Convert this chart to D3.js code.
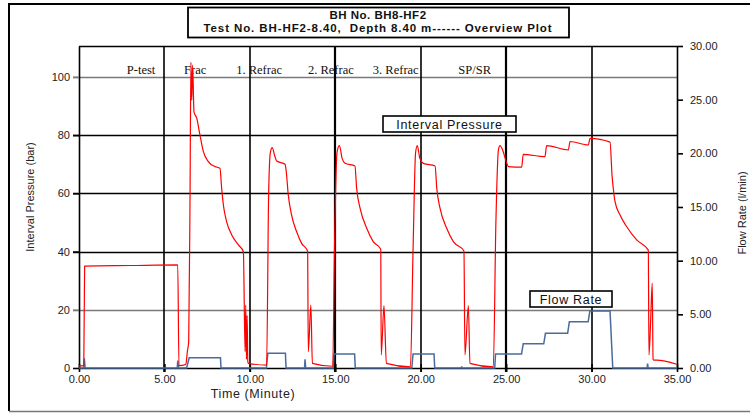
<!DOCTYPE html>
<html>
<head>
<meta charset="utf-8">
<script src="https://cdn.jsdelivr.net/npm/d3@7"></script>
<style>
  body { margin: 0; background: #fff; }
  svg { display: block; font-family: "Liberation Sans", Arial, sans-serif; }
</style>
</head>
<body>
<svg id="chart" width="750" height="413"></svg>
<script>
// ---- data ----
// interval pressure (bar) vs time (minute)
var pTime = [0, 0.28, 0.33, 3, 5.78, 5.85, 6.25, 6.35, 6.42, 6.5, 6.55, 6.6, 6.65, 6.73, 6.89, 7.08, 7.28, 7.57, 7.96, 8.25,
  8.35, 8.45, 8.64, 8.94, 9.33, 9.62, 9.72, 9.76, 9.8, 9.84, 9.88, 9.91, 10.98, 11.1, 11.2, 11.31, 11.45, 11.57, 12.06, 12.12,
  12.25, 12.44, 12.74, 13.03, 13.38, 13.42, 13.57, 13.66, 14.85, 14.95, 15.1, 15.24, 15.4, 15.57, 16.15, 16.25, 16.45, 16.84,
  17.22, 17.66, 17.69, 17.85, 17.99, 19.4, 19.55, 19.7, 19.8, 19.95, 20.15, 20.84, 20.94, 21.13, 21.52, 21.91, 22.53, 22.59,
  22.79, 22.88, 24.25, 24.4, 24.55, 24.64, 24.83, 25.0, 25.13, 25.91, 26.0, 27.27, 27.37, 28.64, 28.74, 29.81, 29.91, 31.08,
  31.2, 31.27, 31.37, 31.66, 32.05, 32.64, 33.32, 33.36, 33.45, 33.55, 33.6, 33.65, 33.81, 34.98];
var pressure = [0.7, 0.8, 35.0, 35.2, 35.4, 0.8, 1.2, 6, 9, 60, 105, 92, 104, 88, 85.8, 80, 74.3, 70.9, 69.2, 68.6,
  61.7, 56, 50.3, 45.7, 42.3, 40, 5.6, 21.6, 3, 18, 2.2, 1.6, 1.0, 60, 74, 75.7, 73, 71.1, 70, 68,
  59.4, 52.6, 46.8, 42.8, 40.2, 5.6, 21.6, 1.6, 0.6, 40, 74, 76.4, 72, 70.3, 69.4, 61.7, 54.9, 48,
  43.4, 40.8, 4.5, 21.4, 1.6, 0.4, 40, 74, 76.4, 72, 70.3, 69.4, 61.7, 54.9, 48, 43.4, 40.2, 4.5,
  21.4, 1.6, 0.4, 50, 75, 76.4, 74.3, 70.9, 69.2, 69, 73.4, 72.6, 76.4, 74.9, 77.8, 76.6, 78.9, 77.6,
  66, 61.7, 57.2, 52.6, 48.6, 44, 40.5, 4.5, 15, 29.1, 3, 2.7, 2.7, 1.3];

// flow rate (l/min) vs time (minute)
var qTime = [0, 0.28, 0.31, 0.36, 5.75, 5.78, 5.83, 6.3, 6.45, 8.28, 8.31, 10.97, 11.05, 12.08, 12.12, 13.2, 13.23, 13.27,
  14.88, 14.92, 16.13, 16.17, 19.48, 19.55, 20.78, 20.82, 22.38, 22.4, 22.42, 24.33, 24.38, 25.9, 26.0, 27.2, 27.3,
  28.6, 28.7, 29.8, 29.9, 31.08, 31.24, 33.25, 33.28, 33.31, 35];
var flow = [0, 0, 0.9, 0, 0, 0.7, 0, 0, 0.96, 0.96, 0, 0, 1.37, 1.37, 0, 0, 0.8, 0,
  0, 1.3, 1.3, 0, 0, 1.3, 1.3, 0, 0, 0.15, 0, 0, 1.3, 1.3, 2.25, 2.25, 3.23,
  3.23, 4.3, 4.3, 5.3, 5.3, 0, 0, 0.4, 0, 0];

var phaseNames = ["P-test", "Frac", "1. Refrac", "2. Refrac", "3. Refrac", "SP/SR"];
var phaseTimes = [2.8, 6.15, 9.2, 13.4, 17.2, 22.2];

var timeTicks = [0, 5, 10, 15, 20, 25, 30, 35];
var pressureTicks = [0, 20, 40, 60, 80, 100];
var flowTicks = [0, 5, 10, 15, 20, 25, 30];

var titleLines = ["BH No. BH8-HF2", "Test No. BH-HF2-8.40,  Depth 8.40 m------ Overview Plot"];

// ---- layout ----
var margin = {top: 46, right: 73, bottom: 45, left: 79};
var W = 750, H = 413;
var width = W - margin.left - margin.right;
var height = H - margin.top - margin.bottom;

var svg = d3.select('#chart');

// outer frame (top, left, bottom)
svg.append('line').attr('x1', 9).attr('x2', W).attr('y1', 4).attr('y2', 4)
  .attr('stroke', '#000').attr('stroke-width', 2);
svg.append('line').attr('x1', 9).attr('x2', 9).attr('y1', 3).attr('y2', 411)
  .attr('stroke', '#000').attr('stroke-width', 2);
svg.append('line').attr('x1', 9).attr('x2', W).attr('y1', 411.5).attr('y2', 411.5)
  .attr('stroke', '#777').attr('stroke-width', 1.5);

// title box
var tb = svg.append('g');
tb.append('rect').attr('x', 188).attr('y', 7.5).attr('width', 381).attr('height', 30)
  .attr('fill', '#fff').attr('stroke', '#000').attr('stroke-width', 1.8);
tb.selectAll('text').data(titleLines).enter().append('text')
  .attr('x', 378).attr('y', function(d, i) { return 19 + i * 13; })
  .attr('text-anchor', 'middle').attr('font-size', 11.5).attr('font-weight', 'bold')
  .attr('fill', '#111').style('white-space', 'pre')
  .style('letter-spacing', function(d, i) { return i == 0 ? '0.5px' : '0.9px'; })
  .text(function(d) { return d; });

var g = svg.append('g').attr('transform', 'translate(' + margin.left + ',' + margin.top + ')');

var x = d3.scaleLinear().domain([0, 35]).range([0, width]);
var yP = d3.scaleLinear().domain([0, 110.6]).range([height, 0]);
var yQ = d3.scaleLinear().domain([0, 30]).range([height, 0]);

// ---- grid lines ----
g.selectAll('.hgrid').data(pressureTicks.filter(function(d) { return d > 0; })).enter().append('line')
  .attr('x1', -6).attr('x2', width)
  .attr('y1', function(d) { return Math.round(yP(d)) + 0.5; })
  .attr('y2', function(d) { return Math.round(yP(d)) + 0.5; })
  .attr('stroke', function(d) { return (d == 20 || d == 100) ? '#7a7a7a' : '#000'; })
  .attr('stroke-width', 1.6);

g.selectAll('.vgrid').data(timeTicks.filter(function(d) { return d > 0 && d < 35; })).enter().append('line')
  .attr('x1', function(d) { return Math.round(x(d)); })
  .attr('x2', function(d) { return Math.round(x(d)); })
  .attr('y1', 0).attr('y2', height + 4)
  .attr('stroke', '#000')
  .attr('stroke-width', function(d) { return (d == 15 || d == 25) ? 2.2 : 1.6; });

// plot top border
g.append('line').attr('x1', 0).attr('x2', width).attr('y1', 0.5).attr('y2', 0.5)
  .attr('stroke', '#000').attr('stroke-width', 1.6);

// ---- axes ----
var fmt2 = d3.format('.2f');

var axL = g.append('g')
  .call(d3.axisLeft(yP).tickValues(pressureTicks).tickSize(6).tickSizeOuter(0).tickFormat(d3.format('d')));
axL.select('.domain').attr('stroke-width', 1.6);
axL.selectAll('.tick line').attr('stroke', function(d) { return (d == 20 || d == 100) ? '#7a7a7a' : '#000'; })
  .attr('stroke-width', 1.6);
axL.selectAll('text').attr('font-size', 11).attr('fill', '#222').attr('x', -9);

var axR = g.append('g').attr('transform', 'translate(' + width + ',0)')
  .call(d3.axisRight(yQ).tickValues(flowTicks).tickSize(6).tickSizeOuter(0).tickFormat(fmt2));
axR.select('.domain').attr('stroke-width', 1.6);
axR.selectAll('.tick line').attr('stroke-width', 1.6);
axR.selectAll('text').attr('font-size', 11).attr('fill', '#222').attr('x', 13);

var axB = g.append('g').attr('transform', 'translate(0,' + height + ')')
  .call(d3.axisBottom(x).tickValues(timeTicks).tickSize(4).tickSizeOuter(0).tickFormat(fmt2));
axB.select('.domain').attr('stroke-width', 1.6);
axB.selectAll('.tick line').attr('y1', -4).attr('stroke-width', 1.6);
axB.selectAll('text').attr('font-size', 11).attr('fill', '#222').attr('y', 7);

// axis titles
svg.append('text').attr('transform', 'translate(34,197) rotate(-90)')
  .attr('text-anchor', 'middle').attr('font-size', 11).attr('fill', '#222')
  .text('Interval Pressure (bar)');
svg.append('text').attr('transform', 'translate(746,213) rotate(-90)')
  .attr('text-anchor', 'middle').attr('font-size', 11).attr('fill', '#222')
  .text('Flow Rate (l/min)');
svg.append('text').attr('x', 253).attr('y', 398)
  .attr('text-anchor', 'middle').attr('font-size', 12.5).attr('fill', '#222')
  .style('letter-spacing', '0.6px')
  .text('Time (Minute)');

// ---- phase labels ----
g.selectAll('.phase').data(phaseNames).enter().append('text')
  .attr('x', function(d, i) { return x(phaseTimes[i]); })
  .attr('y', 28)
  .attr('font-family', '"Liberation Serif", "Times New Roman", serif')
  .attr('font-size', 12.5).attr('fill', '#111')
  .text(function(d) { return d; });

// ---- series ----
var flowLine = d3.line()
  .x(function(d, i) { return x(qTime[i]); })
  .y(function(d) { return yQ(d); });

var pressLine = d3.line()
  .x(function(d, i) { return x(pTime[i]); })
  .y(function(d) { return yP(d); })
  .curve(d3.curveMonotoneX);

g.append('path').datum(flow)
  .attr('fill', 'none').attr('stroke', '#4a6b9c').attr('stroke-width', 1.5)
  .attr('d', flowLine);

g.append('path').datum(pressure)
  .attr('fill', 'none').attr('stroke', '#ff0000').attr('stroke-width', 1.2)
  .attr('stroke-linejoin', 'round')
  .attr('d', pressLine);

// ---- series labels ----
function labelBox(tx, ty, w, txt) {
  var lb = svg.append('g');
  lb.append('rect').attr('x', tx).attr('y', ty).attr('width', w).attr('height', 16)
    .attr('fill', '#fff').attr('stroke', '#000').attr('stroke-width', 1.6);
  lb.append('text').attr('x', tx + w / 2).attr('y', ty + 12.5)
    .attr('text-anchor', 'middle').attr('font-size', 12.5).attr('fill', '#111')
    .style('letter-spacing', '0.7px')
    .text(txt);
}
labelBox(383, 116, 133, 'Interval  Pressure');
labelBox(530, 291, 82, 'Flow  Rate');
</script>
</body>
</html>
